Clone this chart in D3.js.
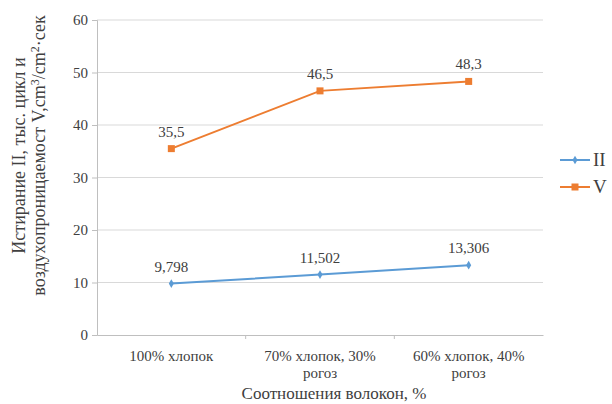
<!DOCTYPE html>
<html>
<head>
<meta charset="utf-8">
<script src="https://cdn.jsdelivr.net/npm/d3@7"></script>
</head>
<body style="margin:0">
<svg id="chart" width="612" height="404" font-family="Liberation Serif"></svg>
<script>
// data
let categories = ["100% хлопок", "70% хлопок, 30% рогоз", "60% хлопок, 40% рогоз"];
let seriesNames = ["II", "V"];
let valuesII = [9.798, 11.502, 13.306];
let valuesV = [35.5, 46.5, 48.3];
let labelsII = ["9,798", "11,502", "13,306"];
let labelsV = ["35,5", "46,5", "48,3"];
let yTicks = [0, 10, 20, 30, 40, 50, 60];
let colors = ["#5b9bd5", "#ed7d31"];

let margin = {top: 20, right: 69, bottom: 69, left: 97},
    width = 612 - margin.left - margin.right,
    height = 404 - margin.top - margin.bottom;

let root = d3.select("#chart");

let x = d3.scaleBand()
    .domain(categories)
    .range([margin.left, margin.left + width]);

let y = d3.scaleLinear()
    .domain([0, 60])
    .range([margin.top + height, margin.top]);

// gridlines
root.append("g")
    .selectAll("line")
    .data(yTicks.slice(1))
    .enter()
    .append("line")
    .attr("x1", margin.left).attr("x2", margin.left + width)
    .attr("y1", d => y(d)).attr("y2", d => y(d))
    .attr("stroke", "#d9d9d9")
    .attr("stroke-width", 1);

// Y axis lines
let yAxis = root.append("g")
    .attr("transform", "translate(" + margin.left + ",0)")
    .call(d3.axisLeft(y).tickValues(yTicks).tickSize(5).tickFormat(""));
yAxis.attr("font-family", null).attr("font-size", null);
yAxis.select(".domain").attr("stroke", "#bfbfbf");
yAxis.selectAll(".tick line").attr("stroke", "#bfbfbf");
yAxis.selectAll(".tick text").remove();

// X axis line
let xAxis = root.append("g")
    .attr("transform", "translate(0," + (margin.top + height) + ")")
    .call(d3.axisBottom(x).tickSize(0).tickFormat(""));
xAxis.attr("font-family", null).attr("font-size", null);
xAxis.select(".domain").attr("stroke", "#bfbfbf");
xAxis.selectAll(".tick text").remove();
xAxis.selectAll(".bnd")
    .data([1, 2])
    .enter()
    .append("line")
    .attr("x1", d => margin.left + x.step() * d).attr("x2", d => margin.left + x.step() * d)
    .attr("y1", 0).attr("y2", 4)
    .attr("stroke", "#bfbfbf");

// lines and markers
let line = d3.line()
    .x((d, i) => x(categories[i]) + x.bandwidth() / 2)
    .y(d => y(d));

let allSeries = [valuesII, valuesV];
let allLabels = [labelsII, labelsV];

allSeries.forEach((vals, s) => {
    root.append("path")
        .datum(vals)
        .attr("fill", "none")
        .attr("stroke", colors[s])
        .attr("stroke-width", 2)
        .attr("d", line);

    if (s === 0) {
        root.append("g").selectAll("path")
            .data(vals)
            .enter()
            .append("path")
            .attr("d", d3.symbol(d3.symbolDiamond, 22))
            .attr("transform", (d, i) => "translate(" + (x(categories[i]) + x.bandwidth() / 2) + "," + y(d) + ")")
            .attr("fill", colors[s]);
    } else {
        root.append("g").selectAll("rect")
            .data(vals)
            .enter()
            .append("rect")
            .attr("x", (d, i) => x(categories[i]) + x.bandwidth() / 2 - 3.5)
            .attr("y", d => y(d) - 3.5)
            .attr("width", 7).attr("height", 7)
            .attr("fill", colors[s]);
    }
});

// all texts below, serif
let tg = root.append("g")
    .attr("font-family", "Liberation Serif")
    .attr("fill", "#404040");

// y tick labels
tg.selectAll(".ytl")
    .data(yTicks)
    .enter()
    .append("text")
    .attr("x", margin.left - 9)
    .attr("y", d => y(d) + 5)
    .attr("text-anchor", "end")
    .attr("font-size", 15)
    .text(d => d);

// wrapped category labels
let catLines = [["100% хлопок"], ["70% хлопок, 30%", "рогоз"], ["60% хлопок, 40%", "рогоз"]];
categories.forEach((c, i) => {
    let t = tg.append("text")
        .attr("x", x(c) + x.bandwidth() / 2)
        .attr("y", margin.top + height + 26)
        .attr("text-anchor", "middle")
        .attr("font-size", 15);
    catLines[i].forEach((ln, j) => {
        t.append("tspan")
            .attr("x", x(c) + x.bandwidth() / 2)
            .attr("dy", j === 0 ? 0 : 17)
            .text(ln);
    });
});

// data labels
allSeries.forEach((vals, s) => {
    tg.append("g")
        .selectAll("text")
        .data(vals)
        .enter()
        .append("text")
        .attr("x", (d, i) => x(categories[i]) + x.bandwidth() / 2)
        .attr("y", d => y(d) - 12)
        .attr("text-anchor", "middle")
        .attr("font-size", 15)
        .text((d, i) => allLabels[s][i]);
});

// axis titles
tg.append("text")
    .attr("x", margin.left + width / 2 + 14)
    .attr("y", margin.top + height + 64)
    .attr("text-anchor", "middle")
    .attr("font-size", 17)
    .text("Соотношения волокон, %");

let yt = tg.append("text")
    .attr("transform", "translate(25," + (margin.top + height / 2 - 22) + ") rotate(-90)")
    .attr("text-anchor", "middle")
    .attr("font-size", 18);
yt.append("tspan").attr("x", 0).attr("y", 0).text("Истирание II, тыс. цикл и");
let l2 = yt.append("tspan").attr("x", 0).attr("y", 20).text("воздухопроницаемост V,cm");
l2.append("tspan").attr("dy", -6).attr("font-size", 12).text("3");
l2.append("tspan").attr("dy", 6).text("/cm");
l2.append("tspan").attr("dy", -6).attr("font-size", 12).text("2");
l2.append("tspan").attr("dy", 6).text("·сек");

// legend
let lx = margin.left + width + 17;
seriesNames.forEach((n, s) => {
    let ly = margin.top + 140 + s * 27;
    root.append("line")
        .attr("x1", lx).attr("x2", lx + 30)
        .attr("y1", ly).attr("y2", ly)
        .attr("stroke", colors[s]).attr("stroke-width", 2);
    if (s === 0) {
        root.append("path")
            .attr("d", d3.symbol(d3.symbolDiamond, 22))
            .attr("transform", "translate(" + (lx + 15) + "," + ly + ")")
            .attr("fill", colors[s]);
    } else {
        root.append("rect")
            .attr("x", lx + 11.5).attr("y", ly - 3.5)
            .attr("width", 7).attr("height", 7)
            .attr("fill", colors[s]);
    }
    tg.append("text")
        .attr("x", lx + 33).attr("y", ly + 6)
        .attr("font-size", 19)
        .text(n);
});
</script>
</body>
</html>
